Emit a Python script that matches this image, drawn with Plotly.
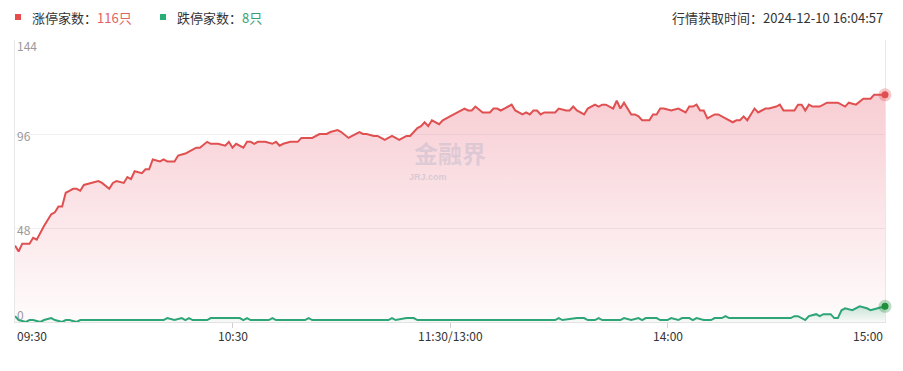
import plotly.graph_objects as go

# minute index from 09:30 (0) to 15:00 (240), lunch break collapsed at 120
rise_t = [0,1,2,4,5,6,8,10,11,12,13,14,15,16,17,18,19,21,23,24,26,27,28,30,31,32,33,35,36,37,38,40,41,42,44,45,47,48,50,51,53,54,56,58,59,60,61,63,64,65,66,67,69,71,72,73,74,76,78,79,82,84,86,87,89,90,92,93,95,96,97,99,100,101,102,104,106,107,108,109,110,111,112,113,114,115,117,118,120,121,122,124,125,126,127,129,131,132,133,134,135,137,138,140,141,142,143,144,145,146,149,150,152,153,154,155,157,158,160,161,162,163,165,166,167,168,170,171,172,173,175,176,177,178,179,181,183,185,186,187,188,189,190,191,193,194,196,198,199,200,201,202,204,205,206,207,208,210,211,212,213,215,216,217,218,219,220,222,224,226,227,229,230,232,234,236,237,240]
rise_v = [39,36,40,40,43,42,49,55,56,59,59,66,67,68,68,67,70,71,72,71,68,71,72,71,74,73,77,76,78,78,83,82,83,82,82,85,86,87,89,89,92,91,91,90,92,89,91,89,92,92,91,92,92,91,92,90,91,92,92,94,94,96,96,97,98,97,94,95,97,96,96,95,95,94,93,95,93,94,95,95,97,99,100,102,100,103,101,103,105,106,107,109,108,108,110,107,107,109,109,108,109,111,108,106,107,106,108,108,106,107,107,109,108,108,110,108,106,109,111,110,111,111,109,113,109,112,106,106,105,103,103,106,106,109,109,108,109,107,110,110,111,108,108,104,106,106,104,102,103,103,105,103,109,107,108,109,109,110,111,108,108,108,111,111,108,111,110,110,112,112,112,110,112,111,114,114,116,116]

fall_t = [0,1,3,4,5,7,8,10,11,13,14,15,17,18,41,42,44,46,47,48,49,53,54,62,63,64,65,70,71,72,80,81,82,103,104,105,108,110,111,149,150,151,155,157,158,160,161,162,167,168,170,172,173,174,177,178,180,181,183,184,186,187,188,190,192,193,195,196,197,214,215,216,218,219,221,222,223,225,226,227,228,229,231,232,233,235,236,238,240]
fall_v = [3,1,0,1,1,0,1,2,1,0,1,1,0,1,1,2,1,2,1,2,1,1,2,2,1,2,1,1,2,1,1,2,1,1,2,1,2,2,1,1,2,1,2,2,1,1,2,1,1,2,1,2,1,2,2,1,1,2,1,2,2,1,2,1,1,2,2,3,2,2,3,3,1,3,4,3,4,4,2,2,6,7,6,7,8,7,6,7,8]

y_ticks = [0, 48, 96, 144]
x_tick_pos = [0, 60, 120, 180, 240]
x_tick_text = ["09:30", "10:30", "11:30/13:00", "14:00", "15:00"]

rise_count = "116只"
fall_count = "8只"
fetch_time = "行情获取时间：2024-12-10 16:04:57"

RED = "#e05050"
GREEN = "#2ea577"
FONT = "Noto Sans CJK SC"

fig = go.Figure()
fig.add_trace(go.Scatter(
    x=rise_t, y=rise_v, mode="lines",
    line=dict(color=RED, width=2),
    fill="tozeroy",
    fillgradient=dict(type="vertical", start=0, stop=116,
                      colorscale=[[0, "rgba(230,90,110,0.02)"], [1, "rgba(230,90,110,0.30)"]]),
    hoverinfo="skip", showlegend=False))
fig.add_trace(go.Scatter(
    x=fall_t, y=fall_v, mode="lines",
    line=dict(color=GREEN, width=2),
    fill="tozeroy",
    fillgradient=dict(type="vertical", start=0, stop=8,
                      colorscale=[[0, "rgba(46,165,119,0.03)"], [1, "rgba(46,165,119,0.25)"]]),
    hoverinfo="skip", showlegend=False))
# end markers with halo
fig.add_trace(go.Scatter(x=[rise_t[-1]], y=[rise_v[-1]], mode="markers",
                         marker=dict(color="rgba(224,80,80,0.3)", size=13), cliponaxis=False,
                         showlegend=False, hoverinfo="skip"))
fig.add_trace(go.Scatter(x=[rise_t[-1]], y=[rise_v[-1]], mode="markers",
                         marker=dict(color=RED, size=7), cliponaxis=False,
                         showlegend=False, hoverinfo="skip"))
fig.add_trace(go.Scatter(x=[fall_t[-1]], y=[fall_v[-1]], mode="markers",
                         marker=dict(color="rgba(30,140,60,0.3)", size=13), cliponaxis=False,
                         showlegend=False, hoverinfo="skip"))
fig.add_trace(go.Scatter(x=[fall_t[-1]], y=[fall_v[-1]], mode="markers",
                         marker=dict(color="#1f8f3a", size=7), cliponaxis=False,
                         showlegend=False, hoverinfo="skip"))

# screen-pixel helpers (plot area on screen spans x 15..885, y 40..322)
def py(p):
    return (322 - p) / 282

def px(p):
    return (p - 15) / 870

annotations = []
for v in y_ticks:
    off = {0: -8, 48: 1, 96: 1, 144: 5}[v]
    annotations.append(dict(x=0, xref="paper", y=v, yref="y", yshift=-off,
                            text=str(v), showarrow=False, xanchor="left", yanchor="middle",
                            font=dict(family=FONT, size=12, color="#9a9a9a")))
for pos, lab in zip(x_tick_pos, x_tick_text):
    anchor = "left" if pos == x_tick_pos[0] else ("right" if pos == x_tick_pos[-1] else "center")
    annotations.append(dict(x=pos, xref="x", y=py(335), yref="paper", text=lab, showarrow=False,
                            xanchor=anchor, yanchor="middle",
                            font=dict(family=FONT, size=12, color="#333333")))
annotations += [
    dict(x=px(30), xref="paper", y=py(17), yref="paper", showarrow=False, xanchor="left", yanchor="middle",
         text="涨停家数：<span style='color:#e06464'>" + rise_count + "</span>",
         font=dict(family=FONT, size=13, color="#333333")),
    dict(x=px(175), xref="paper", y=py(17), yref="paper", showarrow=False, xanchor="left", yanchor="middle",
         text="跌停家数：<span style='color:#3a9f6e'>" + fall_count + "</span>",
         font=dict(family=FONT, size=13, color="#333333")),
    dict(x=px(885), xref="paper", y=py(17), yref="paper", showarrow=False, xanchor="right", yanchor="middle",
         text=fetch_time, font=dict(family=FONT, size=13, color="#333333")),
    dict(x=px(450), xref="paper", y=py(152), yref="paper", showarrow=False, xanchor="center", yanchor="middle",
         text="<b>金融界</b>", font=dict(family=FONT, size=24, color="rgba(150,160,190,0.28)")),
    dict(x=px(428), xref="paper", y=py(177), yref="paper", showarrow=False, xanchor="center", yanchor="middle",
         text="<b>JRJ.com</b>", font=dict(family="Arial", size=9, color="rgba(150,160,190,0.35)")),
]

shapes = [
    dict(type="rect", xref="paper", yref="paper", x0=px(15), x1=px(21), y0=py(20), y1=py(14),
         fillcolor="#e84c4c", line=dict(width=0)),
    dict(type="rect", xref="paper", yref="paper", x0=px(160), x1=px(166), y0=py(20), y1=py(14),
         fillcolor="#27ae76", line=dict(width=0)),
]

# page body has an 8px default margin: shift figure contents up/left by 8px
fig.update_layout(
    width=895, height=363,
    margin=dict(l=7, r=18, t=32, b=49),
    paper_bgcolor="white", plot_bgcolor="white",
    xaxis=dict(range=[0, 240], showgrid=False, zeroline=False, showline=True, linecolor="#e3e3e3",
               linewidth=1, mirror=False, ticks="outside", tickvals=[60, 120, 180], ticklen=5,
               tickcolor="#d0d0d0", showticklabels=False, fixedrange=True, layer="below traces"),
    yaxis=dict(range=[0, 144], tickvals=y_ticks, showticklabels=False, gridcolor="#f0f0f0",
               zeroline=False, showline=True, mirror=True, linecolor="#e8e8e8", linewidth=1,
               fixedrange=True, layer="below traces"),
    annotations=annotations, shapes=shapes,
)

fig.write_html("out.html")
